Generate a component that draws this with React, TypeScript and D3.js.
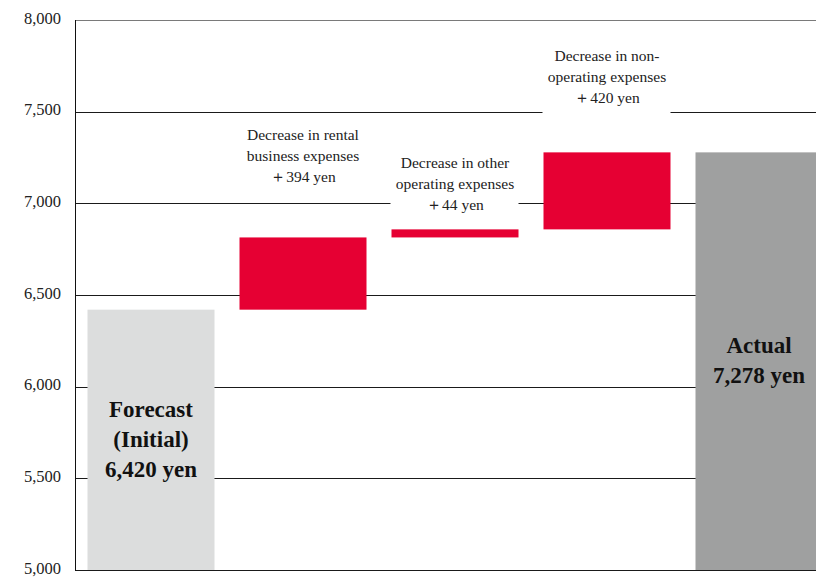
import React from "react";
import * as d3 from "d3";

// Waterfall: initial forecast, three expense decreases, actual result
const categories = ["forecast", "rental", "otherOp", "nonOp", "actual"];
const startValue = 6420;
const increments = [394, 44, 420];
const endValue = 7278;
const yTicks = [5000, 5500, 6000, 6500, 7000, 7500, 8000];

const totalLabels: Record<string, string[]> = {
  forecast: ["Forecast", "(Initial)", "6,420 yen"],
  actual: ["Actual", "7,278 yen"],
};
const stepLabels = [
  ["Decrease in rental", "business expenses", "＋394 yen"],
  ["Decrease in other", "operating expenses", "＋44 yen"],
  ["Decrease in non-", "operating expenses", "＋420 yen"],
];

const W = 816;
const H = 577;
const FONT = "Liberation Serif, Times New Roman, Times, serif";

export default function App() {
  const y = d3.scaleLinear().domain([5000, 8000]).range([570, 20]);
  const x = d3
    .scaleBand<string>()
    .domain(categories)
    .range([75, 835])
    .paddingInner(25 / 152)
    .paddingOuter(12.5 / 152);
  const bw = x.bandwidth();

  // running totals for the floating bars
  const steps = increments.map((d, i) => {
    const base = startValue + d3.sum(increments.slice(0, i));
    return { key: categories[i + 1], from: base, to: base + d, labels: stepLabels[i] };
  });

  const lineH = 21;
  const gap = [59, 23, 53];

  return (
    <svg
      width={W}
      height={H}
      style={{ position: "fixed", left: 0, top: 0, background: "#fff" }}
    >
      {/* gridlines */}
      {yTicks.map((t) => (
        <line
          key={t}
          x1={76}
          x2={W}
          y1={Math.round(y(t)) + 0.5}
          y2={Math.round(y(t)) + 0.5}
          stroke={t === 8000 ? "#7a7a7a" : "#1a1a1a"}
          strokeWidth={1}
        />
      ))}
      {/* tick labels */}
      {yTicks.map((t) => (
        <text
          key={"l" + t}
          x={61}
          y={y(t)}
          textAnchor="end"
          dominantBaseline="middle"
          fontFamily={FONT}
          fontSize={16.5}
          fill="#222"
        >
          {d3.format(",")(t)}
        </text>
      ))}

      {/* total bars */}
      <rect
        x={x("forecast")}
        y={y(startValue)}
        width={bw}
        height={y(5000) - y(startValue)}
        fill="#dcdddd"
      />
      <rect
        x={x("actual")}
        y={y(endValue)}
        width={bw}
        height={y(5000) - y(endValue)}
        fill="#9fa0a0"
      />

      {/* increment bars */}
      {steps.map((s) => (
        <rect
          key={s.key}
          x={x(s.key)}
          y={y(s.to)}
          width={bw}
          height={y(s.from) - y(s.to)}
          fill="#e60033"
        />
      ))}

      {/* increment annotations with white backing */}
      {steps.map((s, i) => {
        const n = s.labels.length;
        const lastCenter = y(s.to) - gap[i];
        const firstCenter = lastCenter - (n - 1) * lineH;
        const cx = (x(s.key) as number) + bw / 2;
        return (
          <g key={"a" + s.key}>
            <rect
              x={(x(s.key) as number) - 1}
              y={firstCenter - 13}
              width={bw + 1}
              height={(n - 1) * lineH + 27}
              fill="#fff"
            />
            {s.labels.map((t, j) => (
              <text
                key={j}
                x={cx}
                y={firstCenter + j * lineH}
                textAnchor="middle"
                dominantBaseline="middle"
                fontFamily={FONT}
                fontSize={15.5}
                fill="#222"
              >
                {t}
              </text>
            ))}
          </g>
        );
      })}

      {/* total labels */}
      {totalLabels.forecast.map((t, j) => (
        <text
          key={"f" + j}
          x={(x("forecast") as number) + bw / 2}
          y={412 + j * 30}
          textAnchor="middle"
          dominantBaseline="middle"
          fontFamily={FONT}
          fontSize={23}
          fontWeight="bold"
          fill="#111"
        >
          {t}
        </text>
      ))}
      {totalLabels.actual.map((t, j) => (
        <text
          key={"t" + j}
          x={(x("actual") as number) + bw / 2}
          y={348 + j * 30}
          textAnchor="middle"
          dominantBaseline="middle"
          fontFamily={FONT}
          fontSize={23}
          fontWeight="bold"
          fill="#111"
        >
          {t}
        </text>
      ))}

      {/* value axis */}
      <line x1={75.5} x2={75.5} y1={y(8000)} y2={y(5000) + 1} stroke="#111" strokeWidth={1} />
    </svg>
  );
}
